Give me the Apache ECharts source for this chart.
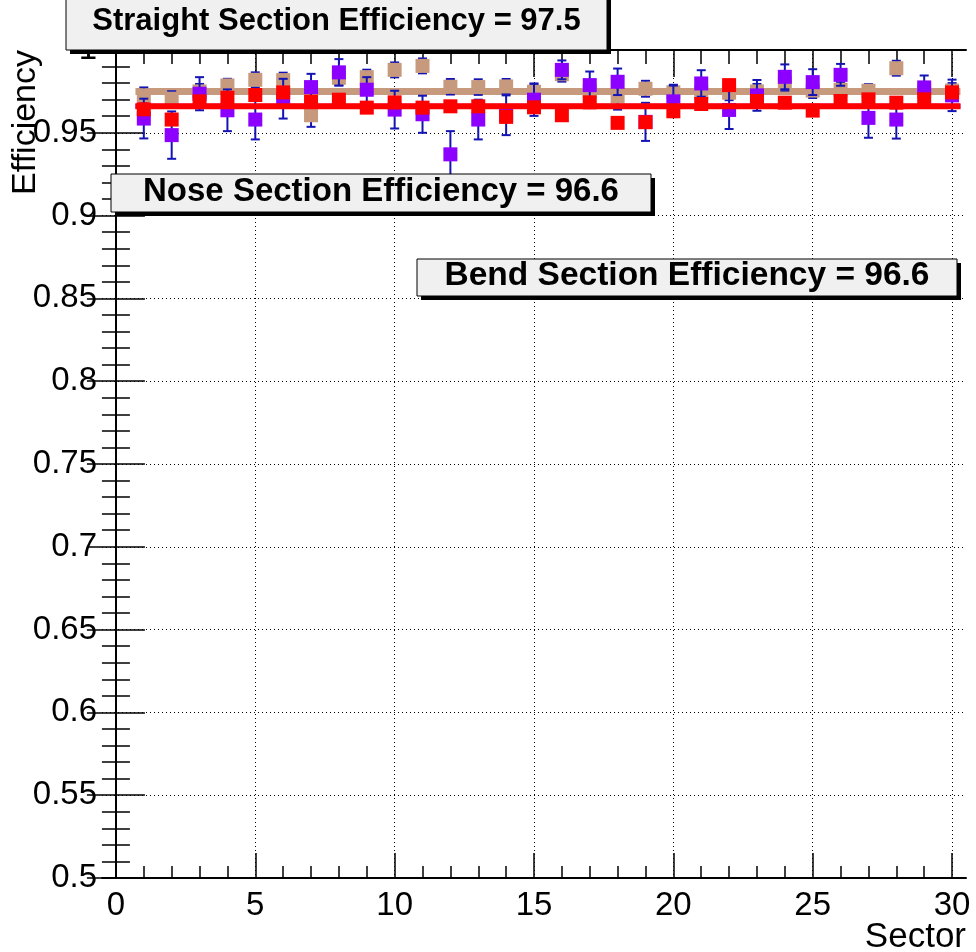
<!DOCTYPE html>
<html><head><meta charset="utf-8">
<script src="https://cdn.jsdelivr.net/npm/echarts@6/dist/echarts.min.js"></script>
<style>html,body{margin:0;padding:0;background:#fff}#c{width:976px;height:952px}</style>
</head><body><div id="c"></div>
<script>
const sectors = [1,2,3,4,5,6,7,8,9,10,11,12,13,14,15,16,17,18,19,20,21,22,23,24,25,26,27,28,29,30];
const straightEff = [0.9726,0.9706,0.975,0.9786,0.982,0.9818,0.9606,0.9832,0.9836,0.988,0.9904,0.9778,0.9776,0.978,0.9748,0.9854,0.9752,0.972,0.9766,0.9745,0.9745,0.9742,0.975,0.980,0.9755,0.976,0.9754,0.989,0.975,0.9755];
const straightErr = [0.0048,0.0045,0.0045,0.004,0.0045,0.0045,0.007,0.0045,0.0045,0.0045,0.0045,0.0047,0.0047,0.0045,0.0045,0.0045,0.0045,0.008,0.0048,0.0045,0.0045,0.0045,0.0045,0.0045,0.0045,0.0045,0.004,0.0045,0.0045,0.0045];
const bendEff = [0.9586,0.9486,0.9736,0.9636,0.958,0.9706,0.9776,0.9865,0.976,0.964,0.9612,0.937,0.958,0.9606,0.970,0.988,0.9788,0.9808,0.9566,0.969,0.9798,0.9638,0.9726,0.9838,0.9806,0.985,0.959,0.958,0.9774,0.9726];
const bendErr = [0.012,0.0143,0.010,0.0126,0.012,0.012,0.008,0.008,0.0076,0.0114,0.0112,0.014,0.012,0.012,0.0098,0.0057,0.0082,0.008,0.0115,0.0095,0.008,0.0115,0.0093,0.0075,0.0078,0.0066,0.012,0.0115,0.0072,0.0095];
const noseEff = [0.9642,0.958,0.969,0.9712,0.9728,0.9744,0.9688,0.970,0.9652,0.9684,0.9652,0.966,0.966,0.9596,0.9654,0.9606,0.9684,0.956,0.9564,0.963,0.9674,0.9788,0.9692,0.9682,0.9634,0.9692,0.9702,0.9682,0.9702,0.9744];
const fitRange = [0.7, 30.3];
const straightFit = 0.975;
const noseFit = 0.966;
const bendFit = 0.966;
const boxTexts = ['Straight Section Efficiency = 97.5','Nose Section Efficiency = 96.6','Bend Section Efficiency = 96.6'];
const xTitle = 'Sector';
const yTitle = 'Efficiency';

const TAN = '#c79a7e', PURPLE = '#8c00ff', RED = '#ff0000', ERR = '#1414b4';
const FONT = '"Liberation Sans", Arial, Helvetica, sans-serif';

function pts(vals){ return sectors.map((s,i)=>[s, vals[i]]); }
function errPts(vals, errs){ return sectors.map((s,i)=>[s, vals[i]-errs[i], vals[i]+errs[i]]); }
function fitLine(v){ return fitRange.map(x=>[x, v]); }

function errRender(params, api){
  const x = api.value(0), lo = api.value(1), hi = api.value(2);
  const a = api.coord([x, lo]), b = api.coord([x, hi]);
  const cw = 4.5;
  const st = {stroke: ERR, lineWidth: 2};
  return {type:'group', children:[
    {type:'line', shape:{x1:a[0],y1:a[1],x2:b[0],y2:b[1]}, style:st},
    {type:'line', shape:{x1:a[0]-cw,y1:a[1],x2:a[0]+cw,y2:a[1]}, style:st},
    {type:'line', shape:{x1:b[0]-cw,y1:b[1],x2:b[0]+cw,y2:b[1]}, style:st}
  ]};
}

function box(x1,y1,x2,y2,text,fs,ty){
  return [
    {type:'rect', shape:{x:x1+4,y:y1+4,width:x2-x1,height:y2-y1}, style:{fill:'#000'}, z:100},
    {type:'rect', shape:{x:x1,y:y1,width:x2-x1,height:y2-y1}, style:{fill:'#f0f0f0',stroke:'#000',lineWidth:1}, z:101},
    {type:'text', x:(x1+x2)/2, y:ty, style:{text:text, fill:'#000', font:'bold '+fs+'px '+FONT, textAlign:'center', textVerticalAlign:'middle'}, z:102}
  ];
}

const chart = echarts.init(document.getElementById('c'), null, {renderer:'canvas'});
const tickLine = {color:'#000', width:1.5};
const G = {top:50, bottom:74};
chart.setOption({
  animation:false,
  backgroundColor:'#fff',
  grid:[
    {left:102, right:10, top:G.top, bottom:G.bottom},
    {left:115.94, right:23.94, top:G.top, bottom:G.bottom}
  ],
  xAxis:[
    {gridIndex:0, type:'value', min:-0.5, max:30.5, position:'bottom',
     axisLine:{show:true,lineStyle:{color:'#000',width:2}}, axisTick:{show:false}, axisLabel:{show:false}, splitLine:{show:false}},
    {gridIndex:0, type:'value', min:-0.5, max:30.5, position:'top',
     axisLine:{show:true,lineStyle:{color:'#000',width:2}}, axisTick:{show:false}, axisLabel:{show:false}, splitLine:{show:false}},
    {gridIndex:1, type:'value', min:0, max:30, interval:5, position:'bottom',
     axisLine:{show:false}, axisTick:{show:true,inside:true,length:25,lineStyle:tickLine},
     minorTick:{show:true,splitNumber:5,length:12,lineStyle:tickLine},
     axisLabel:{show:true,fontSize:33,color:'#000',fontFamily:FONT,margin:11},
     splitLine:{show:true,lineStyle:{color:'#000',type:[1,3],width:1}}},
    {gridIndex:1, type:'value', min:0, max:30, interval:5, position:'top',
     axisLine:{show:false}, axisTick:{show:true,inside:true,length:27,lineStyle:tickLine},
     minorTick:{show:true,splitNumber:5,length:14,lineStyle:tickLine},
     axisLabel:{show:false}, splitLine:{show:false}}
  ],
  yAxis:[
    {gridIndex:0, type:'value', min:0.5, max:1.0, interval:0.05, position:'left',
     axisLine:{show:true,lineStyle:{color:'#000',width:2}},
     axisTick:{show:true,inside:true,length:29,lineStyle:tickLine},
     minorTick:{show:true,splitNumber:5,length:14,lineStyle:tickLine},
     axisLabel:{show:true,fontSize:33,color:'#000',fontFamily:FONT,margin:5,padding:[6,0,0,0]},
     splitLine:{show:true,lineStyle:{color:'#000',type:[1,3],width:1}}},
    {gridIndex:0, type:'value', min:0.5, max:1.0, interval:0.05, position:'right',
     axisLine:{show:true,lineStyle:{color:'#000',width:2}},
     axisTick:{show:true,inside:true,length:29,lineStyle:tickLine},
     minorTick:{show:true,splitNumber:5,length:14,lineStyle:tickLine},
     axisLabel:{show:false}, splitLine:{show:false}},
    {gridIndex:1, type:'value', min:0.5, max:1.0, show:false}
  ],
  series:[
    {type:'line', xAxisIndex:0, yAxisIndex:0, data:fitLine(straightFit), symbol:'none', lineStyle:{color:TAN,width:7}, z:2},
    {type:'custom', xAxisIndex:0, yAxisIndex:0, data:errPts(straightEff, straightErr), renderItem:errRender, z:3},
    {type:'scatter', xAxisIndex:0, yAxisIndex:0, data:pts(straightEff), symbol:'rect', symbolSize:14, itemStyle:{color:TAN,opacity:1}, z:4},
    {type:'custom', xAxisIndex:0, yAxisIndex:0, data:errPts(bendEff, bendErr), renderItem:errRender, z:5},
    {type:'scatter', xAxisIndex:0, yAxisIndex:0, data:pts(bendEff), symbol:'rect', symbolSize:14, itemStyle:{color:PURPLE,opacity:1}, z:6},
    {type:'line', xAxisIndex:0, yAxisIndex:0, data:fitLine(bendFit), symbol:'none', lineStyle:{color:PURPLE,width:5}, z:7},
    {type:'line', xAxisIndex:0, yAxisIndex:0, data:fitLine(noseFit), symbol:'none', lineStyle:{color:RED,width:6}, z:8},
    {type:'scatter', xAxisIndex:0, yAxisIndex:0, data:pts(noseEff), symbol:'rect', symbolSize:14, itemStyle:{color:RED,opacity:1}, z:9}
  ],
  graphic:[
    ...box(66,-10,607,50,boxTexts[0],31,21),
    ...box(111,174,651,212,boxTexts[1],33,192),
    ...box(417,259,957,296,boxTexts[2],33.5,276),
    {type:'text', x:966, y:937, style:{text:xTitle, fill:'#000', font:'35px '+FONT, textAlign:'right', textVerticalAlign:'middle'}, z:50},
    {type:'text', x:26, y:50, rotation:Math.PI/2, style:{text:yTitle, fill:'#000', font:'34px '+FONT, textAlign:'right', textVerticalAlign:'middle'}, z:50}
  ]
});
</script></body></html>
